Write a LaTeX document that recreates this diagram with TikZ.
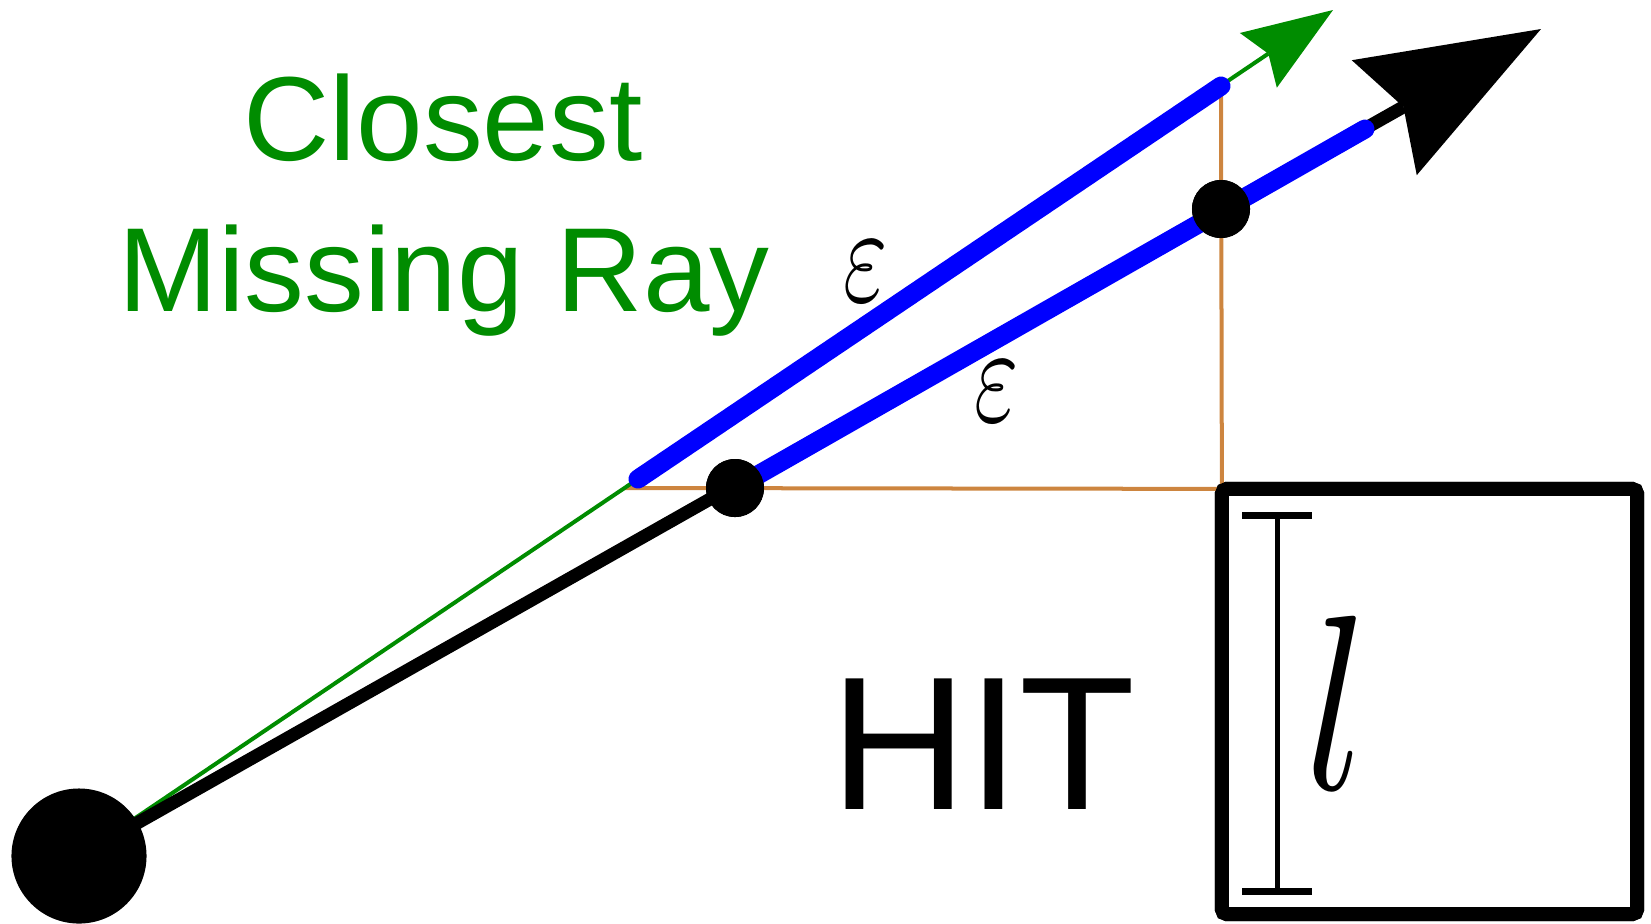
\documentclass[tikz,border=0pt]{standalone}
\usepackage{fontspec}
\usepackage{graphicx}
\setmainfont{Liberation Sans}
\usetikzlibrary{arrows.meta}
\definecolor{raygreen}{RGB}{0,140,0}
\definecolor{seglblue}{RGB}{0,0,255}
\definecolor{brownline}{RGB}{205,133,63}
\tikzset{
  dotnode/.style={circle, fill=black, inner sep=0pt, minimum size=#1},
  greenray/.style={draw=raygreen, line width=0.04cm, -{Stealth[length=0.9cm, width=0.66cm, inset=0.12cm, line width=0pt, fill=raygreen]}},
  blackray/.style={draw=black, line width=0.13cm, -{Stealth[length=1.8cm, width=1.32cm, inset=0.22cm, line width=0pt]}},
  blueseg/.style={draw=seglblue, line width=0.19cm, line cap=round},
  brownguide/.style={draw=brownline, line width=0.04cm},
  hitbox/.style={draw=black, line width=0.14cm, rounded corners=0.05cm, minimum width=4.15cm, minimum height=4.25cm, inner sep=0pt, outer sep=0pt},
  dimline/.style={draw=black, line width=0.05cm},
  dimbar/.style={draw=black, line width=0.07cm},
}
\begin{document}
\begin{tikzpicture}[x=0.01cm, y=-0.01cm]
\useasboundingbox (0,0) rectangle (1651,923);
% named points
\coordinate (gtip) at (1333,10);
\coordinate (btip) at (1541,29);
\coordinate (C) at (625,488);
\coordinate (b1s) at (638,479);
\coordinate (b1e) at (1221,86);
\coordinate (b2e) at (1365,129);
\coordinate (dt) at (1277,515);
\coordinate (db) at (1277,891);
\coordinate (dtl) at (1242,515);
\coordinate (dtr) at (1312,515);
\coordinate (dbl) at (1242,891);
\coordinate (dbr) at (1312,891);
% nodes
\node[hitbox] (box) at (1429.5,701.5) {};
\node[dotnode=0.58cm] (D1) at (735,488) {};
\node[dotnode=0.58cm] (D2) at (1221,209) {};
% guide lines
\draw[brownguide] (C) -- (box.north west);
\draw[brownguide] (b1e) -- (box.north west);
% rays
\draw[greenray] (79,856) -- (gtip);
\draw[blackray] (79,856) -- (btip);
% blue segments
\draw[blueseg] (b1s) -- (b1e);
\draw[blueseg] (D1.center) -- (b2e);
% dots on top
\node[dotnode=1.35cm] (O) at (79,856) {};
\node[dotnode=0.58cm] at (D1) {};
\node[dotnode=0.58cm] at (D2) {};
\node[hitbox] at (box) {};
% dimension marker
\draw[dimline] (dt) -- (db);
\draw[dimbar] (dtl) -- (dtr);
\draw[dimbar] (dbl) -- (dbr);
% texts
\node[anchor=base, text=raygreen, font=\fontsize{34pt}{40pt}\selectfont, inner sep=0pt] (t1) at (443,160) {Closest};
\node[anchor=base, text=raygreen, font=\fontsize{34pt}{40pt}\selectfont, inner sep=0pt] (t2) at (444,311) {Missing Ray};
\node[anchor=base, font=\fontsize{54pt}{60pt}\selectfont, inner sep=0pt] (hit) at (983,809) {HIT};
\node[inner sep=0pt] (e1) at (866,272) {\scalebox{2.7}[3.95]{$\varepsilon$}};
\node[inner sep=0pt] (e2) at (997,392) {\scalebox{2.7}[3.95]{$\varepsilon$}};
\node[inner sep=0pt] (ell) at (1337,703) {\scalebox{5.6}[7.1]{$l$}};
\end{tikzpicture}
\end{document}
